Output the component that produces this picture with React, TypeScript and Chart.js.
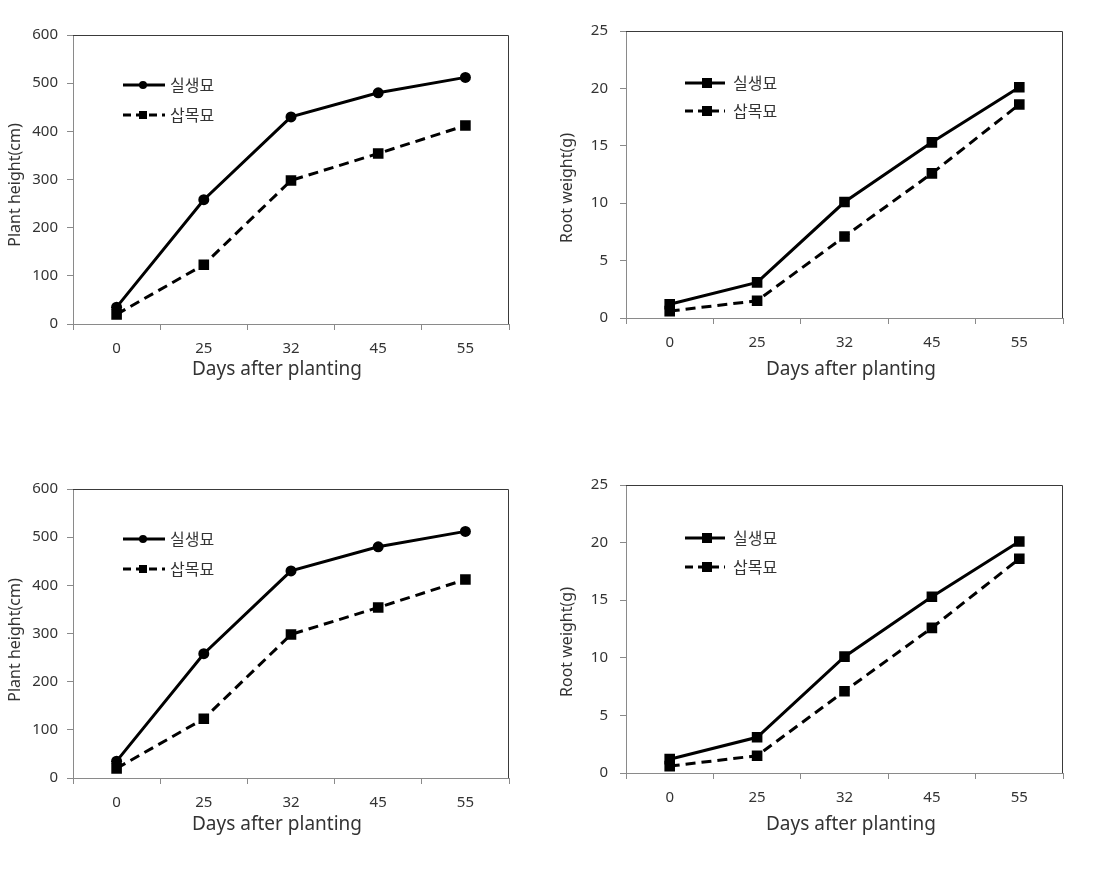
import React, { useEffect, useRef } from "react";
import { Chart, registerables } from "chart.js";

Chart.register(...registerables);

// ---------- data ----------
const DAYS = ["0", "25", "32", "45", "55"];
const SERIES = ["실생묘", "삽목묘"];
const HEIGHT_SEEDLING = [35, 258, 430, 480, 512];
const HEIGHT_CUTTING = [20, 123, 298, 354, 412];
const ROOT_SEEDLING = [1.2, 3.1, 10.1, 15.3, 20.1];
const ROOT_CUTTING = [0.6, 1.5, 7.1, 12.6, 18.6];
const HEIGHT_RANGE = [0, 600, 100];
const ROOT_RANGE = [0, 25, 5];
const HEIGHT_TITLE = "Plant height(cm)";
const ROOT_TITLE = "Root weight(g)";
const X_TITLE = "Days after planting";

const LATIN = "'Noto Sans', 'Open Sans', sans-serif";
const KOREAN = "'Noto Sans CJK KR', 'Noto Sans', sans-serif";
const TEXT = "#333333";

type Panel = {
  kind: "height" | "root";
  cx: number; cy: number; cw: number; ch: number;
  L: number; T: number; R: number; B: number;
  xTitleX: number; xTitleY: number;
  yTitleX: number; yTitleY: number;
  labelGap: number;
  legend: { x1: number; x2: number; mx: number; tx: number; ys: number[] };
};

const PANELS: Panel[] = [
  { kind: "height", cx: 0, cy: 0, cw: 555, ch: 440, L: 73, T: 35, R: 509, B: 324,
    xTitleX: 277, xTitleY: 370, yTitleX: 15, yTitleY: 185, labelGap: 9,
    legend: { x1: 123, x2: 165, mx: 143, tx: 170, ys: [85, 115] } },
  { kind: "root", cx: 555, cy: 0, cw: 555, ch: 440, L: 626, T: 31, R: 1063, B: 318,
    xTitleX: 851, xTitleY: 370, yTitleX: 567, yTitleY: 188, labelGap: 12,
    legend: { x1: 685, x2: 725, mx: 707, tx: 733, ys: [83, 111] } },
  { kind: "height", cx: 0, cy: 440, cw: 555, ch: 439, L: 73, T: 489, R: 509, B: 778,
    xTitleX: 277, xTitleY: 825, yTitleX: 15, yTitleY: 640, labelGap: 9,
    legend: { x1: 123, x2: 165, mx: 143, tx: 170, ys: [539, 569] } },
  { kind: "root", cx: 555, cy: 440, cw: 555, ch: 439, L: 626, T: 485, R: 1063, B: 773,
    xTitleX: 851, xTitleY: 825, yTitleX: 567, yTitleY: 642, labelGap: 12,
    legend: { x1: 685, x2: 725, mx: 707, tx: 733, ys: [538, 567] } },
];

function drawMarker(ctx: CanvasRenderingContext2D, style: string, x: number, y: number, size: number) {
  ctx.fillStyle = "#000";
  ctx.beginPath();
  if (style === "circle") {
    ctx.arc(x, y, size / 2, 0, Math.PI * 2);
  } else {
    ctx.rect(x - size / 2, y - size / 2, size, size);
  }
  ctx.fill();
}

function makeDecor(p: Panel) {
  return {
    id: "decor",
    afterDraw(chart: any) {
      const ctx: CanvasRenderingContext2D = chart.ctx;
      const a = chart.chartArea;
      ctx.save();
      // top / right frame
      ctx.lineWidth = 1;
      ctx.strokeStyle = "#3a3a3a";
      ctx.beginPath();
      ctx.moveTo(a.left, a.top + 0.5);
      ctx.lineTo(a.right - 0.5, a.top + 0.5);
      ctx.lineTo(a.right - 0.5, a.bottom);
      ctx.stroke();
      // x title
      ctx.fillStyle = TEXT;
      ctx.font = `19px ${LATIN}`;
      ctx.textAlign = "center";
      ctx.textBaseline = "middle";
      ctx.fillText(X_TITLE, p.xTitleX - p.cx, p.xTitleY - p.cy);
      // y title
      ctx.save();
      ctx.translate(p.yTitleX - p.cx, p.yTitleY - p.cy);
      ctx.rotate(-Math.PI / 2);
      ctx.font = `16px ${LATIN}`;
      ctx.fillText(p.kind === "height" ? HEIGHT_TITLE : ROOT_TITLE, 0, 0);
      ctx.restore();
      // legend
      chart.data.datasets.forEach((ds: any, i: number) => {
        const y = p.legend.ys[i] - p.cy;
        ctx.save();
        ctx.strokeStyle = "#000";
        ctx.lineWidth = 3;
        ctx.setLineDash(ds.borderDash ? [8, 5] : []);
        ctx.beginPath();
        ctx.moveTo(p.legend.x1 - p.cx, y);
        ctx.lineTo(p.legend.x2 - p.cx, y);
        ctx.stroke();
        ctx.restore();
        const style = ds.pointStyle;
        const size = style === "circle" ? 8 : p.kind === "root" ? 10 : 8;
        drawMarker(ctx, style, p.legend.mx - p.cx, y, size);
        ctx.fillStyle = TEXT;
        ctx.font = `16px ${KOREAN}`;
        ctx.textAlign = "left";
        ctx.textBaseline = "middle";
        ctx.fillText(ds.label, p.legend.tx - p.cx, y);
      });
      ctx.restore();
    },
  };
}

function buildConfig(p: Panel): any {
  const isHeight = p.kind === "height";
  const s1 = isHeight ? HEIGHT_SEEDLING : ROOT_SEEDLING;
  const s2 = isHeight ? HEIGHT_CUTTING : ROOT_CUTTING;
  const range = isHeight ? HEIGHT_RANGE : ROOT_RANGE;
  const yWidth = p.L - p.cx;
  const xHeight = p.cy + p.ch - p.B;
  return {
    type: "line",
    data: {
      labels: DAYS,
      datasets: [
        {
          label: SERIES[0],
          data: s1,
          borderColor: "#000",
          backgroundColor: "#000",
          borderWidth: 3,
          pointStyle: isHeight ? "circle" : "rect",
          pointRadius: isHeight ? 5.5 : 7.5,
          pointBackgroundColor: "#000",
          pointBorderColor: "#000",
          pointBorderWidth: 0,
          tension: 0,
        },
        {
          label: SERIES[1],
          data: s2,
          borderColor: "#000",
          backgroundColor: "#000",
          borderWidth: 3,
          borderDash: [10, 6],
          pointStyle: "rect",
          pointRadius: 7.5,
          pointBackgroundColor: "#000",
          pointBorderColor: "#000",
          pointBorderWidth: 0,
          tension: 0,
        },
      ],
    },
    options: {
      responsive: false,
      animation: false,
      events: [],
      layout: {
        padding: { left: 0, top: p.T - p.cy, right: p.cx + p.cw - p.R, bottom: 0 },
      },
      plugins: {
        legend: { display: false },
        tooltip: { enabled: false },
        title: { display: false },
      },
      scales: {
        x: {
          type: "category",
          offset: true,
          grid: {
            offset: true,
            drawOnChartArea: false,
            drawTicks: true,
            tickLength: 6,
            color: "#8a8a8a",
          },
          border: { display: true, color: "#8a8a8a", width: 1 },
          ticks: { color: TEXT, font: { size: 15, family: LATIN }, padding: 10, maxRotation: 0 },
          afterFit: (scale: any) => { scale.height = xHeight; },
        },
        y: {
          min: range[0],
          max: range[1],
          grid: {
            drawOnChartArea: false,
            drawTicks: true,
            tickLength: 6,
            color: "#8a8a8a",
          },
          border: { display: true, color: "#8a8a8a", width: 1 },
          ticks: {
            stepSize: range[2],
            color: TEXT,
            font: { size: 15, family: LATIN },
            padding: p.labelGap,
          },
          afterFit: (scale: any) => { scale.width = yWidth; },
        },
      },
    },
    plugins: [makeDecor(p)],
  };
}

function ChartPanel({ p }: { p: Panel }) {
  const ref = useRef<HTMLCanvasElement | null>(null);
  useEffect(() => {
    if (!ref.current) return;
    const chart = new Chart(ref.current, buildConfig(p));
    return () => chart.destroy();
  }, [p]);
  return (
    <canvas
      ref={ref}
      width={p.cw}
      height={p.ch}
      style={{ position: "absolute", left: p.cx, top: p.cy, width: p.cw, height: p.ch }}
    />
  );
}

export default function App() {
  return (
    <div style={{ position: "absolute", left: 0, top: 0, width: 1110, height: 879, background: "#fff" }}>
      {PANELS.map((p, i) => (
        <ChartPanel key={i} p={p} />
      ))}
    </div>
  );
}
